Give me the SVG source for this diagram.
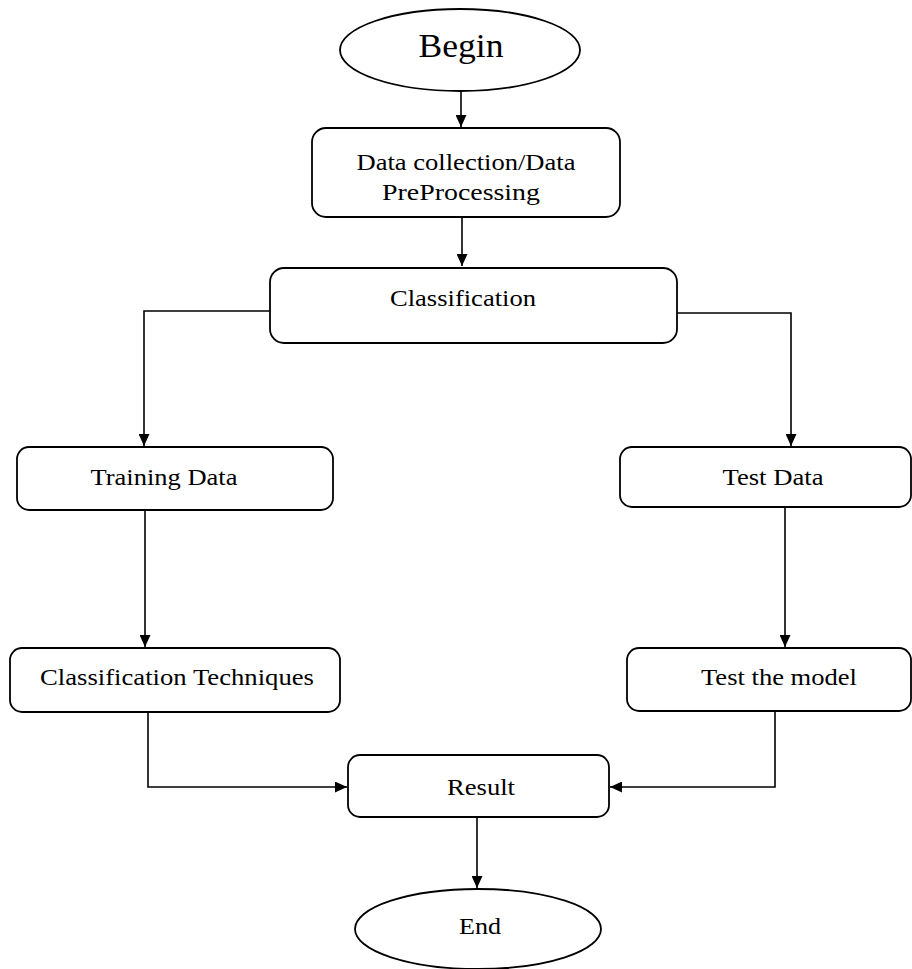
<svg xmlns="http://www.w3.org/2000/svg" width="912" height="969" viewBox="0 0 912 969">
<defs>
<style>
.node{fill:#fff;stroke:#000;stroke-width:1.8}
.t{font-family:"Liberation Serif","Times New Roman",serif;fill:#000;text-anchor:middle}
.c{fill:none;stroke:#000;stroke-width:1.6}
</style>
<marker id="ah" markerWidth="13" markerHeight="11" refX="12" refY="5.5" orient="auto" markerUnits="userSpaceOnUse">
<path d="M0,0 L12,5.5 L0,11 Z" fill="#000"/>
</marker>
</defs>
<rect width="912" height="969" fill="#fff"/>
<g id="connectors">
<path class="c" d="M461,91 V127" marker-end="url(#ah)"/>
<path class="c" d="M462,217 V266" marker-end="url(#ah)"/>
<path class="c" d="M270,311 H144 V446" marker-end="url(#ah)"/>
<path class="c" d="M677,313 H791 V446" marker-end="url(#ah)"/>
<path class="c" d="M145,510 V647" marker-end="url(#ah)"/>
<path class="c" d="M785,507 V647" marker-end="url(#ah)"/>
<path class="c" d="M148,712 V787 H347" marker-end="url(#ah)"/>
<path class="c" d="M775,711 V787 H610" marker-end="url(#ah)"/>
<path class="c" d="M477,818 V888" marker-end="url(#ah)"/>
</g>
<g id="begin">
<ellipse class="node" cx="460" cy="50" rx="120" ry="41"/>
<text class="t" x="461" y="57" font-size="33" textLength="85" lengthAdjust="spacingAndGlyphs">Begin</text>
</g>
<g id="data-collection">
<rect class="node" x="312" y="128" width="308" height="89" rx="14"/>
<text class="t" x="466" y="170" font-size="23" textLength="219" lengthAdjust="spacingAndGlyphs">Data collection/Data</text>
<text class="t" x="461" y="200" font-size="23" textLength="158" lengthAdjust="spacingAndGlyphs">PreProcessing</text>
</g>
<g id="classification">
<rect class="node" x="270" y="268" width="407" height="75" rx="14"/>
<text class="t" x="463" y="306" font-size="23" textLength="146" lengthAdjust="spacingAndGlyphs">Classification</text>
</g>
<g id="training-data">
<rect class="node" x="17" y="447" width="316" height="63" rx="12"/>
<text class="t" x="164" y="485" font-size="23" textLength="147" lengthAdjust="spacingAndGlyphs">Training Data</text>
</g>
<g id="test-data">
<rect class="node" x="620" y="447" width="291" height="60" rx="12"/>
<text class="t" x="773" y="485" font-size="23" textLength="101" lengthAdjust="spacingAndGlyphs">Test Data</text>
</g>
<g id="classification-techniques">
<rect class="node" x="10" y="648" width="330" height="64" rx="12"/>
<text class="t" x="177" y="685" font-size="23" textLength="274" lengthAdjust="spacingAndGlyphs">Classification Techniques</text>
</g>
<g id="test-model">
<rect class="node" x="627" y="648" width="284" height="63" rx="12"/>
<text class="t" x="779" y="685" font-size="23" textLength="156" lengthAdjust="spacingAndGlyphs">Test the model</text>
</g>
<g id="result">
<rect class="node" x="348" y="755" width="261" height="62" rx="12"/>
<text class="t" x="481" y="795" font-size="23" textLength="68" lengthAdjust="spacingAndGlyphs">Result</text>
</g>
<g id="end">
<ellipse class="node" cx="478" cy="929" rx="123" ry="40"/>
<text class="t" x="480" y="934" font-size="23" textLength="42" lengthAdjust="spacingAndGlyphs">End</text>
</g>
</svg>
